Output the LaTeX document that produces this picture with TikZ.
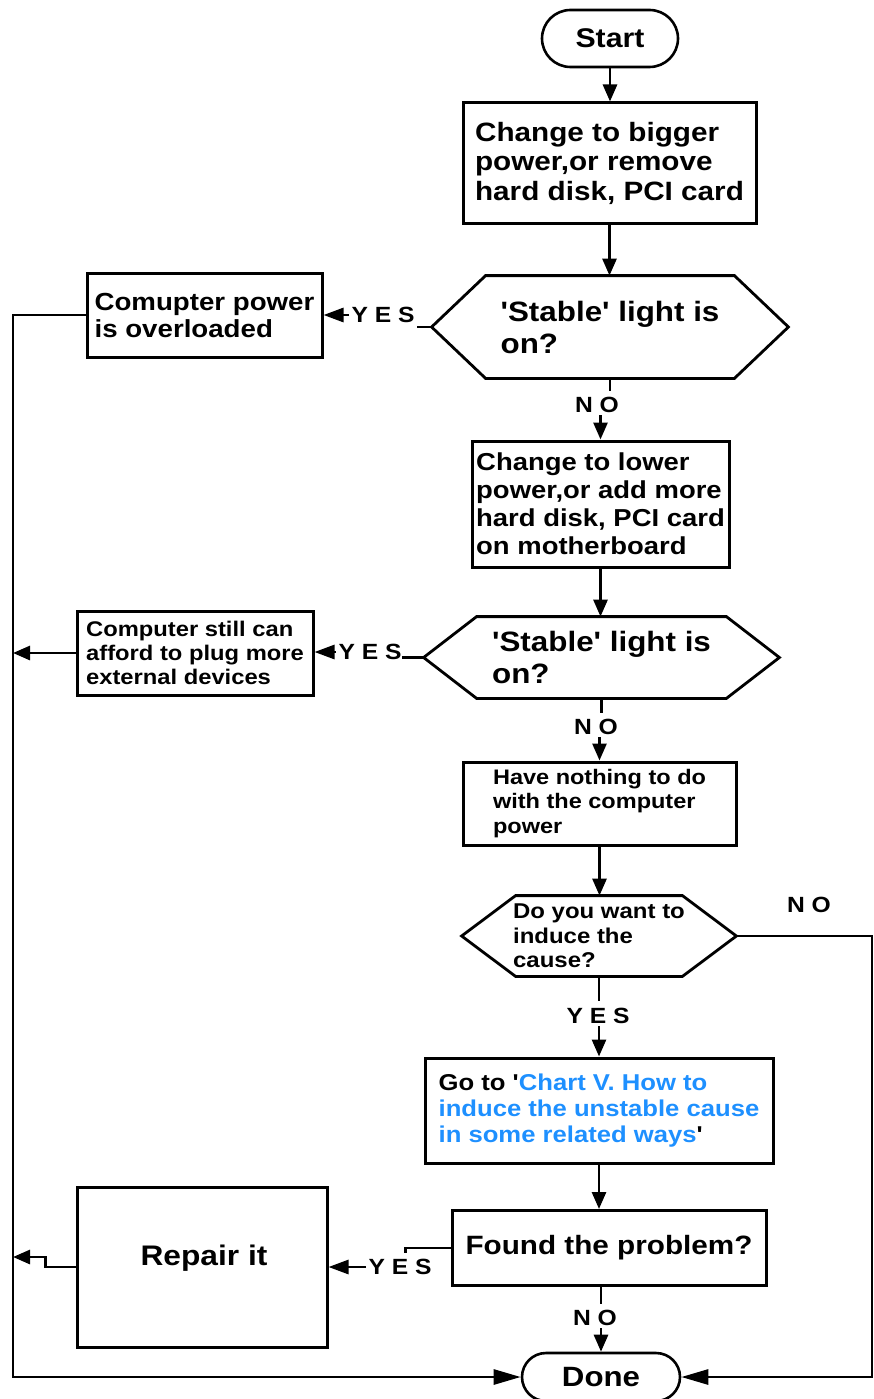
\documentclass[tikz,border=0pt]{standalone}
\usepackage{fontspec}
\newfontfamily\af{Liberation Sans}[FakeStretch=1.12]
\usetikzlibrary{arrows.meta,shapes.misc,calc}
\definecolor{linkblue}{RGB}{30,144,255}
\newcommand{\fz}[2]{\af\bfseries\fontsize{#1}{#2}\selectfont}
\newcommand{\hexpath}[2]{%
  \draw[line width=2.8pt] (#1.west) -- ($(#1.north west)+(#2,0)$) -- ($(#1.north east)+(-#2,0)$)
    -- (#1.east) -- ($(#1.south east)+(-#2,0)$) -- ($(#1.south west)+(#2,0)$) -- cycle;}
\begin{document}
\begin{tikzpicture}[x=1pt,y=-1pt,line width=2.8pt,
  box/.style={draw,line width=3pt,inner sep=0pt,align=left},
  term/.style={draw,rounded rectangle,line width=2.6pt,inner sep=0pt},
  hexa/.style={inner sep=0pt,align=left},
  lab/.style={font=\fz{22}{22},inner sep=1pt},
  arr/.style={-{Triangle[length=17pt,width=14pt]}},
  larr/.style={-{Triangle[length=20pt,width=14pt]}},
  darr/.style={-{Triangle[length=27pt,width=15pt]}}]
\useasboundingbox (0,0) rectangle (874,1399);
\fill[white] (0,0) rectangle (874,1399);

% nodes
\node[term,minimum width=136,minimum height=57,font=\fz{27}{30}] (start) at (610,38.5) {Start};
\node[box,minimum width=293,minimum height=120,font=\fz{26.5}{29.5}] (b1) at (609.5,163)
  {Change to bigger\\power,or remove\\hard disk, PCI card};
\node[hexa,minimum width=354,minimum height=100,font=\fz{28}{32}] (h1) at (610,327)
  {'Stable' light is\\on?};
\hexpath{h1}{54}
\node[box,minimum width=235,minimum height=84,font=\fz{24.7}{27}] (b2) at (204.5,315)
  {Comupter power\\is overloaded};
\node[lab] (yes1) at (383,315) {Y E S};
\node[lab] (no1) at (597,405) {N O};
\node[box,minimum width=257,minimum height=126,font=\fz{24.5}{28}] (b3) at (600.5,504)
  {Change to lower\\power,or add more\\hard disk, PCI card\\on motherboard};
\node[hexa,minimum width=353,minimum height=79,font=\fz{28}{32}] (h2) at (601.5,657.5)
  {'Stable' light is\\on?};
\hexpath{h2}{53}
\node[lab] (yes2) at (370,652) {Y E S};
\node[box,minimum width=236,minimum height=84,font=\fz{21.2}{24}] (b4) at (195,653)
  {Computer still can\\afford to plug more\\external devices};
\node[lab] (no2) at (596,727) {N O};
\node[box,minimum width=273,minimum height=83,font=\fz{21}{24.5}] (b5) at (599.5,803.5)
  {Have nothing to do\\with the computer\\power};
\node[hexa,minimum width=272,minimum height=78,font=\fz{21.4}{24.5}] (h3) at (599,936)
  {Do you want to\\induce the\\cause?};
\hexpath{h3}{54}
\node[lab] (no3) at (809,905) {N O};
\node[lab] (yes3) at (598,1016) {Y E S};
\node[box,minimum width=348,minimum height=105,font=\fz{22.9}{26}] (b6) at (599,1110.5)
  {Go to '{\color{linkblue}Chart V. How to}\\{\color{linkblue}induce the unstable cause}\\{\color{linkblue}in some related ways}'};
\node[box,minimum width=314,minimum height=75,font=\fz{26.5}{29}] (b7) at (609,1248)
  {Found the problem?};
\node[lab] (yes4) at (400,1267) {Y E S};
\node[box,minimum width=250,minimum height=160] (b8) at (202,1267) {};
\node[inner sep=0pt,font=\fz{28.3}{30}] (rt) at (204,1258) {Repair it};
\node[lab] (no4) at (595,1318) {N O};
\node[term,minimum width=158,minimum height=48,font=\fz{27.9}{30}] (done) at (601,1377) {Done};

\coordinate (L) at (13,1377);
\coordinate (R) at (872,1377);

% connectors
\draw[arr] (start.south) -- (start.south |- b1.north);
\draw[arr] (b1.south) -- (b1.south |- h1.north);
\draw (h1.west) -- ++(-15,0);
\draw[larr] (yes1.west) -- (yes1.west -| b2.east);
\draw[darr] (b2.west) -| (L) -- (done.west);
\draw (h1.south) -- ++(0,13);
\draw[arr] (no1.south -| b3.north) -- (b3.north);
\draw[arr] (b3.south) -- (b3.south |- h2.north);
\draw (h2.west) -- ++(-22,0);
\draw[larr] (yes2.west) -- (yes2.west -| b4.east);
\draw[arr] (b4.west) -- (b4.west -| L);
\draw (h2.south) -- ++(0,15);
\draw[arr] (no2.south -| b5.north) -- (b5.north);
\draw[arr] (b5.south) -- (b5.south |- h3.north);
\draw[darr] (h3.east) -| (R) -- (done.east);
\draw (h3.south) -- ++(0,25);
\draw[arr] (yes3.south -| b6.north) -- (b6.north);
\draw[arr] (b6.south) -- (b6.south |- b7.north);
\draw (b7.west) -- ++(-45,0) -- ++(0,5);
\draw[larr] (yes4.west) -- (yes4.west -| b8.east);
\draw[arr] (b8.west) -- ++(-30,0) -- ++(0,-10) coordinate (t) -- (t -| L);
\draw (b7.south -| done.north) -- ++(0,17);
\draw[arr] (no4.south -| done.north) -- (done.north);
\end{tikzpicture}
\end{document}
